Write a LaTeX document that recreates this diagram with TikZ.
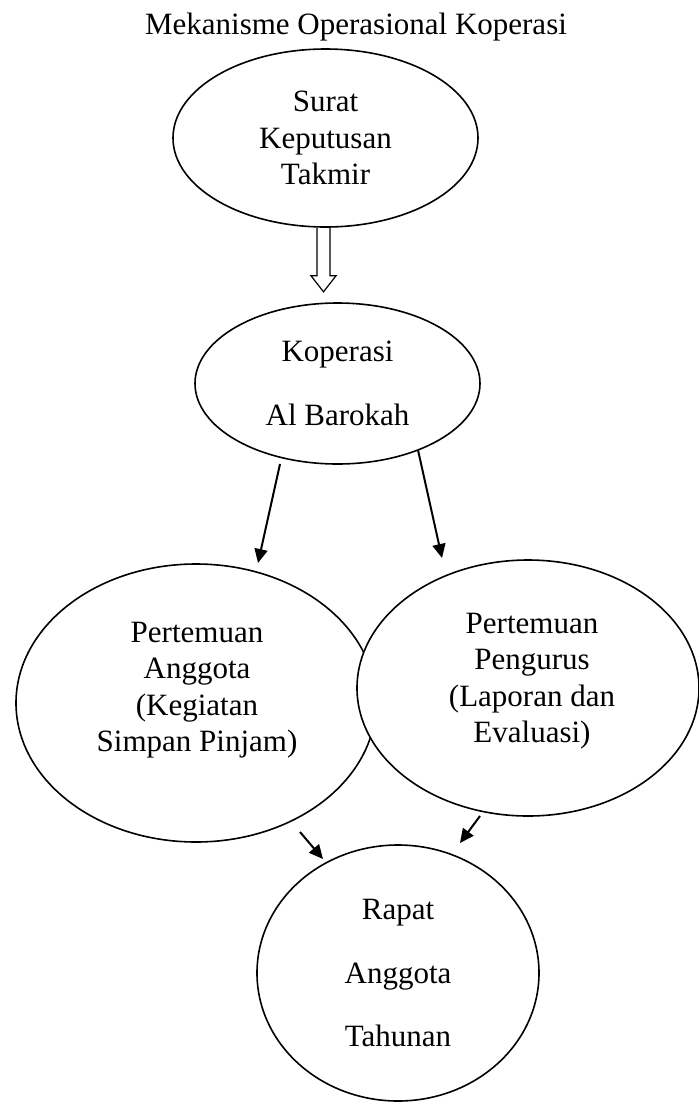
\documentclass[tikz,border=0pt]{standalone}
\usepackage{fontspec}
\setmainfont{Liberation Serif}
\usetikzlibrary{shapes.geometric,arrows.meta}

\tikzset{
  oval/.style={draw, ellipse, line width=1.6pt, inner sep=0pt},
  teks/.style={align=center, font=\fontsize{31}{36.5}\selectfont},
  panah/.style={line width=2pt, -{Triangle[length=14pt,width=13pt]}}
}

\begin{document}
\begin{tikzpicture}[x=1pt,y=-1pt]
\useasboundingbox (0,0) rectangle (699,1104);

\node[teks, anchor=base] (judul) at (356,34) {Mekanisme Operasional Koperasi};

\node[oval, teks, minimum width=305pt, minimum height=178pt] (sk) at (325.5,138) {Surat\\Keputusan\\Takmir};
\node[oval, teks, font=\fontsize{31}{64}\selectfont, minimum width=285pt, minimum height=161pt] (kop) at (337.5,383.5) {Koperasi\\Al Barokah};

% hollow arrow, shaft 13 wide, head 25 wide
\draw[line width=1.2pt] ([shift={(-8.5,0)}]sk.south) -- ++(0,48) -- ++(-6,0) -- ++(12.5,16) -- ++(12.5,-16) -- ++(-6,0) -- ++(0,-48);

\node[oval, minimum width=360pt, minimum height=278pt] (anggota) at (196,703) {};
\node[teks] (anggota-isi) at (197,690) {Pertemuan\\Anggota\\(Kegiatan\\Simpan Pinjam)};
\node[oval, fill=white, minimum width=342pt, minimum height=256pt] (pengurus) at (528,688) {};
\node[teks] (pengurus-isi) at (532,681) {Pertemuan\\Pengurus\\(Laporan dan\\Evaluasi)};

\node[oval, teks, font=\fontsize{31}{63.5}\selectfont, minimum width=282pt, minimum height=256pt] (rapat) at (398,973) {Rapat\\Anggota\\Tahunan};

\draw[panah] ([shift={(-57.5,80.5)}]kop.center) -- ([shift={(62,-140)}]anggota.center);
\draw[panah] ([shift={(80.5,66.5)}]kop.center) -- ([shift={(-86,-130)}]pengurus.center);
\draw[panah] ([shift={(104,129)}]anggota.center) -- ([shift={(-75,-114)}]rapat.center);
\draw[panah] ([shift={(-48,128)}]pengurus.center) -- ([shift={(62,-130)}]rapat.center);

\end{tikzpicture}
\end{document}
